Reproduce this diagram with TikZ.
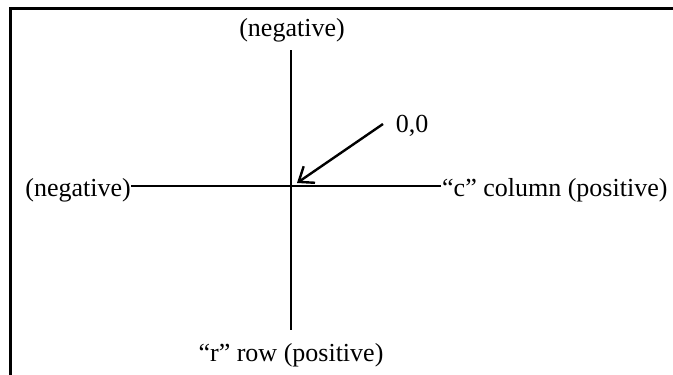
\documentclass[tikz,border=0pt]{standalone}
\usepackage{fontspec}
\setmainfont{Liberation Serif}
\usetikzlibrary{arrows.meta}
\begin{document}
\begin{tikzpicture}[x=1pt,y=-1pt,
  lbl/.style={font=\fontsize{26}{31}\selectfont, inner sep=0pt},
  axis/.style={line width=2.4pt},
  frame/.style={line width=3pt},
  pointer/.style={line width=2.4pt, -{Straight Barb[length=13pt,width=20pt,line width=2.4pt]}}]
\useasboundingbox (0,0) rectangle (673,375);
\coordinate (fbl) at (10,375);
\coordinate (ftl) at (10,8);
\coordinate (ftr) at (673,8);
\draw[frame] (fbl) -- (ftl) -- (ftr);
\node[lbl] (top) at (292,30) {(negative)};
\node[lbl, anchor=east] (left) at (131,190) {(negative)};
\node[lbl, anchor=west] (right) at (442,190) {“c” column (positive)};
\node[lbl] (bottom) at (291,355) {“r” row (positive)};
\node[lbl] (origlbl) at (412,126) {0,0};
\coordinate (vtop) at (291,50);
\coordinate (vbot) at (291,330);
\coordinate (hl) at (131,186);
\coordinate (hr) at (441,186);
\coordinate (tip) at (297,183);
\coordinate (tail) at (383,124);
\draw[axis] (vtop) -- (vbot);
\draw[axis] (hl) -- (hr);
\draw[pointer] (tail) -- (tip);
\end{tikzpicture}
\end{document}
